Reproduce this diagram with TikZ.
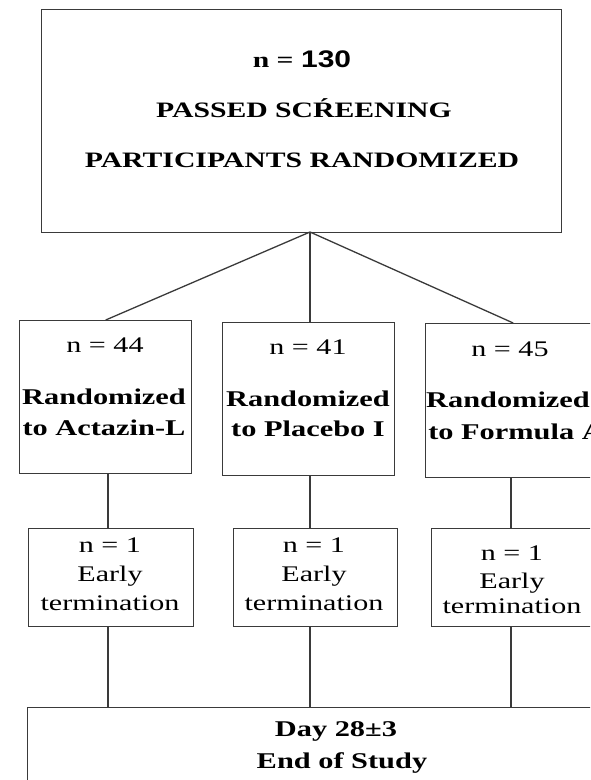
\documentclass[tikz,border=0pt]{standalone}
\usepackage{fontspec}
\setmainfont[FakeStretch=1.35]{Liberation Serif}
\newfontfamily\numsans[FakeStretch=1.25]{Liberation Sans}
\definecolor{linec}{HTML}{3A3A3A}
\tikzset{
  box/.style={draw=linec, line width=1.4pt, anchor=north west, inner sep=0pt},
  conn/.style={draw=linec, line width=1.3pt},
  hd/.style={inner sep=0pt, anchor=mid, yshift=-5pt, font=\fontsize{22}{25}\selectfont\bfseries},
  bd/.style={inner sep=0pt, anchor=mid, yshift=-5pt, font=\fontsize{22.5}{25}\selectfont\bfseries},
  rg/.style={inner sep=0pt, anchor=mid, yshift=-5pt, font=\fontsize{22.3}{25}\selectfont},
}
\begin{document}
\begin{tikzpicture}[x=1pt,y=-1pt]
\useasboundingbox (0,0) rectangle (590,780);
\clip (0,0) rectangle (590,780);
% top box
\node[box, minimum width=520pt, minimum height=223pt] (top) at (41,9) {};
\node[hd] (t1) at (302,60) {n = {\numsans\fontsize{24}{26}\selectfont 130}};
\node[hd] (t2) at (304,110) {PASSED SCŔEENING};
\node[hd] (t3) at (302,160) {PARTICIPANTS RANDOMIZED};
\coordinate (apex) at (310,232);
% randomized boxes
\node[box, minimum width=172pt, minimum height=153pt] (b1) at (19,320) {};
\node[box, minimum width=172pt, minimum height=153pt] (b2) at (222,322) {};
\node[box, minimum width=185pt, minimum height=154pt] (b3) at (425,323) {};
\node[rg] (b1n) at (105,345) {n = 44};
\node[bd] (b1a) at (104,397) {Randomized};
\node[bd] (b1b) at (104,428) {to Actazin-L};
\node[rg] (b2n) at (308,347) {n = 41};
\node[bd] (b2a) at (308,399) {Randomized};
\node[bd] (b2b) at (308,429) {to Placebo I};
\node[rg] (b3n) at (510,349) {n = 45};
\node[bd] (b3a) at (508,400) {Randomized};
\node[bd] (b3b) at (516,432) {to Formula A};
% early termination boxes
\node[box, minimum width=165pt, minimum height=98pt] (e1) at (28,528) {};
\node[box, minimum width=164pt, minimum height=98pt] (e2) at (233,528) {};
\node[box, minimum width=175pt, minimum height=98pt] (e3) at (431,528) {};
\node[rg] (e1n) at (110,545) {n = 1};
\node[rg] (e1a) at (110,574) {Early};
\node[rg] (e1b) at (110,603) {termination};
\node[rg] (e2n) at (314,545) {n = 1};
\node[rg] (e2a) at (314,574) {Early};
\node[rg] (e2b) at (314,603) {termination};
\node[rg] (e3n) at (512,553) {n = 1};
\node[rg] (e3a) at (512,581) {Early};
\node[rg] (e3b) at (512,606) {termination};
% end box
\node[box, minimum width=620pt, minimum height=120pt] (end) at (27,707) {};
\node[bd] (d1) at (336,729) {Day 28±3};
\node[bd] (d2) at (342,761) {End of Study};
% connectors
\coordinate (c1) at (108,0);
\coordinate (c2) at (310,0);
\coordinate (c3) at (511,0);
\draw[conn] (apex) -- (b1.north);
\draw[conn] (apex) -- (apex |- b2.north);
\draw[conn] (apex) -- ([xshift=-5pt]b3.north);
\draw[conn] (b1.south -| c1) -- (e1.north -| c1);
\draw[conn] (b2.south -| c2) -- (e2.north -| c2);
\draw[conn] (b3.south -| c3) -- (e3.north -| c3);
\draw[conn] (e1.south -| c1) -- (end.north -| c1);
\draw[conn] (e2.south -| c2) -- (end.north -| c2);
\draw[conn] (e3.south -| c3) -- (end.north -| c3);
\end{tikzpicture}
\end{document}
